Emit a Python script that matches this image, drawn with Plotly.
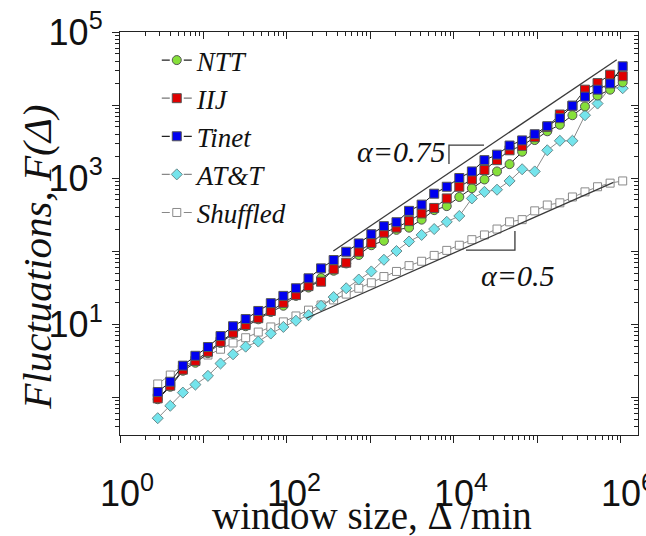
import plotly.graph_objects as go

# ---- data ----
window = [2.83, 4, 5.66, 8, 11.3, 16, 22.6, 32, 45.3, 64, 90.5, 128, 181, 256, 362, 512,
          724, 1024, 1448, 2048, 2896, 4096, 5793, 8192, 11585, 16384, 23170, 32768,
          46341, 65536, 92682, 131072, 185364, 262144, 370728, 524288, 741455, 1048576]

ntt = [0.933, 1.38, 2.29, 2.95, 3.98, 5.50, 7.33, 9.33, 11.6, 14.6,
       17.8, 24.3, 31.6, 42.7, 53.7, 67.6, 88.1, 120, 138, 195,
       209, 269, 363, 412, 550, 724, 955, 1230, 1549, 2291,
       3311, 4365, 5370, 7244, 9550, 13490, 16218, 20417]
iij = [0.959, 1.43, 2.37, 3.13, 4.17, 5.71, 7.59, 9.68, 12.0, 15.1,
       19.5, 24.9, 33.1, 38.0, 56.2, 69.2, 97.7, 129, 178, 209,
       257, 327, 389, 525, 759, 955, 1288, 1758, 2399, 2754,
       3631, 5012, 7413, 9772, 16218, 19953, 26002, 24831]
tinet = [1.17, 1.62, 2.69, 3.67, 4.84, 6.84, 9.33, 11.7, 15.1, 19.3,
         24.3, 30.9, 42.3, 57.9, 75.3, 97.7, 127, 170, 219, 248,
         355, 432, 610, 759, 1000, 1230, 1758, 2089, 2786, 3273,
         3981, 5129, 6607, 9772, 13030, 16218, 19724, 33884]
att = [0.513, 0.759, 1.15, 1.48, 1.95, 2.88, 3.85, 4.90, 5.75, 7.41,
       9.12, 11.1, 13.2, 17.8, 23.4, 30.9, 40.7, 52.5, 75.9, 100,
       135, 166, 200, 251, 302, 525, 646, 692, 912, 1318,
       1230, 2399, 3236, 3236, 7244, 10471, 17378, 16982]
shuffled = [1.51, 2.00, 2.69, 3.09, 3.76, 4.52, 5.50, 6.49, 7.76, 9.12,
            10.7, 12.9, 15.5, 18.2, 21.4, 25.7, 30.9, 36.7, 44.7, 52.5,
            63.1, 72.4, 87.1, 102, 120, 143, 166, 200, 251, 269,
            355, 427, 457, 550, 646, 759, 851, 912]

# guide lines (slopes alpha=0.75 and alpha=0.5) and their brackets
guide075_x = [359, 891000]
guide075_y = [100, 41700]
guide05_x = [170, 813000]
guide05_y = [12.0, 871]
bracket075_x = [8710, 8710, 22900]
bracket075_y = [1550, 2820, 2820]
bracket05_x = [13930, 53700, 53700]
bracket05_y = [103, 103, 188]

x_tickvals = [1, 10, 100, 1e3, 1e4, 1e5, 1e6]
x_ticktext = ["10<sup>0</sup>", "", "10<sup>2</sup>", "", "10<sup>4</sup>", "", "10<sup>6</sup>"]
y_tickvals = [1, 10, 100, 1e3, 1e4, 1e5]
y_ticktext = ["", "10<sup>1</sup>", "", "10<sup>3</sup>", "", "10<sup>5</sup>"]

x_minor = [m * 10 ** d for d in range(0, 7) for m in range(2, 10)]
y_minor = [m * 10 ** d for d in range(-1, 5) for m in range(2, 10)]

SERIF = "Liberation Serif"
SANS = "Liberation Sans"
EDGE = "#555555"
INK = "#111111"

series = [
    # name, values, symbol, fill, edge, size, line colour
    ("Shuffled", shuffled, "square", "#ffffff", "#8a8a8a", 8, "#8a8a8a"),
    ("AT&T", att, "diamond", "#74e4ec", "#6a8a8c", 8.5, "#8a8a8a"),
    ("NTT", ntt, "circle", "#86e03a", EDGE, 9, "#2a2a2a"),
    ("IIJ", iij, "square", "#e00000", EDGE, 9, "#2a2a2a"),
    ("Tinet", tinet, "square", "#0000f0", EDGE, 9, "#1a1a1a"),
]

fig = go.Figure()

# guide lines + brackets (on the mirror axes so those axes are drawn)
for gx, gy in [(guide075_x, guide075_y), (guide05_x, guide05_y),
               (bracket075_x, bracket075_y), (bracket05_x, bracket05_y)]:
    fig.add_trace(go.Scatter(x=gx, y=gy, mode="lines", xaxis="x2", yaxis="y2",
                             line=dict(color="#3a3a3a", width=1.3),
                             showlegend=False, hoverinfo="skip"))

for name, vals, sym, fill, edge, size, lc in series:
    fig.add_trace(go.Scatter(
        x=window, y=vals, mode="lines+markers", name=name, showlegend=False,
        line=dict(color=lc, width=1),
        marker=dict(symbol=sym, size=size, color=fill, line=dict(color=edge, width=1)),
    ))

# legend entries ("— o —" style)
legend_order = ["NTT", "IIJ", "Tinet", "AT&T", "Shuffled"]
legend_line = {"NTT": "#222222", "IIJ": "#777777", "Tinet": "#222222",
               "AT&T": "#888888", "Shuffled": "#888888"}
lookup = {s[0]: s for s in series}
for name in legend_order:
    _, vals, sym, fill, edge, size, lc = lookup[name]
    fig.add_trace(go.Scatter(
        x=[None], y=[None], mode="lines+markers", name=name,
        line=dict(color=legend_line[name], width=1.2, dash="8px,14px,8px"),
        marker=dict(symbol=sym, size=size, color=fill, line=dict(color=edge, width=1)),
    ))

XR = [0, 6.204]
YR = [-0.52, 5.0]
tickfont = dict(family=SANS, size=36, color=INK)

common_x = dict(type="log", range=XR, tickmode="array", tickvals=x_tickvals,
                showline=True, linecolor="#222222", linewidth=1.3,
                showgrid=False, zeroline=False, ticklen=7, tickwidth=1.3,
                tickcolor="#222222", automargin=False)
common_y = dict(type="log", range=YR, tickmode="array", tickvals=y_tickvals,
                showline=True, linecolor="#222222", linewidth=1.3,
                showgrid=False, zeroline=False, ticklen=7, tickwidth=1.3,
                tickcolor="#222222", automargin=False)

fig.update_layout(
    width=646, height=536,
    margin=dict(l=120, r=8, t=32, b=101, autoexpand=False),
    paper_bgcolor="white", plot_bgcolor="white",
    xaxis=dict(**common_x, side="bottom", ticks="outside", ticktext=x_ticktext,
               tickfont=tickfont, ticklabelstandoff=20, ticklabelshift=7,
               ticklabeloverflow="allow",
               minor=dict(tickmode="array", tickvals=x_minor, ticks="outside",
                          ticklen=4, tickwidth=1, tickcolor="#222222")),
    yaxis=dict(**common_y, side="left", ticks="outside", ticktext=y_ticktext,
               tickfont=tickfont, ticklabelstandoff=2, ticklabeloverflow="allow",
               minor=dict(tickmode="array", tickvals=y_minor, ticks="outside",
                          ticklen=4, tickwidth=1, tickcolor="#222222")),
    xaxis2=dict(**common_x, side="top", overlaying="x", anchor="y2", ticks="inside",
                showticklabels=False,
                minor=dict(tickmode="array", tickvals=x_minor, ticks="inside",
                           ticklen=4, tickwidth=1, tickcolor="#222222")),
    yaxis2=dict(**common_y, side="right", overlaying="y", anchor="x2", ticks="inside",
                showticklabels=False,
                minor=dict(tickmode="array", tickvals=y_minor, ticks="inside",
                           ticklen=4, tickwidth=1, tickcolor="#222222")),
    legend=dict(x=0.071, y=0.99, xanchor="left", yanchor="top",
                bgcolor="rgba(0,0,0,0)", borderwidth=0,
                font=dict(family=SERIF, size=27, color=INK, style="italic"),
                tracegroupgap=0, itemclick=False),
    showlegend=True,
    annotations=[
        dict(text="α=0.75", xref="paper", yref="paper", x=0.544, y=0.749,
             showarrow=False,
             font=dict(family=SERIF, size=30, color=INK, style="italic")),
        dict(text="α=0.5", xref="paper", yref="paper", x=0.844, y=0.395,
             showarrow=False,
             font=dict(family=SERIF, size=30, color=INK, style="italic")),
        dict(text="window size, Δ /min", xref="paper", yref="paper", x=0.486, y=-0.2,
             xanchor="center", yanchor="middle", showarrow=False,
             font=dict(family=SERIF, size=39, color=INK)),
        dict(text="Fluctuations, F(Δ)", xref="paper", yref="paper", x=-0.16, y=0.44,
             xanchor="center", yanchor="middle", textangle=-90, showarrow=False,
             font=dict(family=SERIF, size=41, color=INK, style="italic")),
    ],
)

fig.write_html("out.html",
               config={"displayModeBar": False},
               post_script="document.body.style.margin='0px';document.body.style.overflow='hidden';")
